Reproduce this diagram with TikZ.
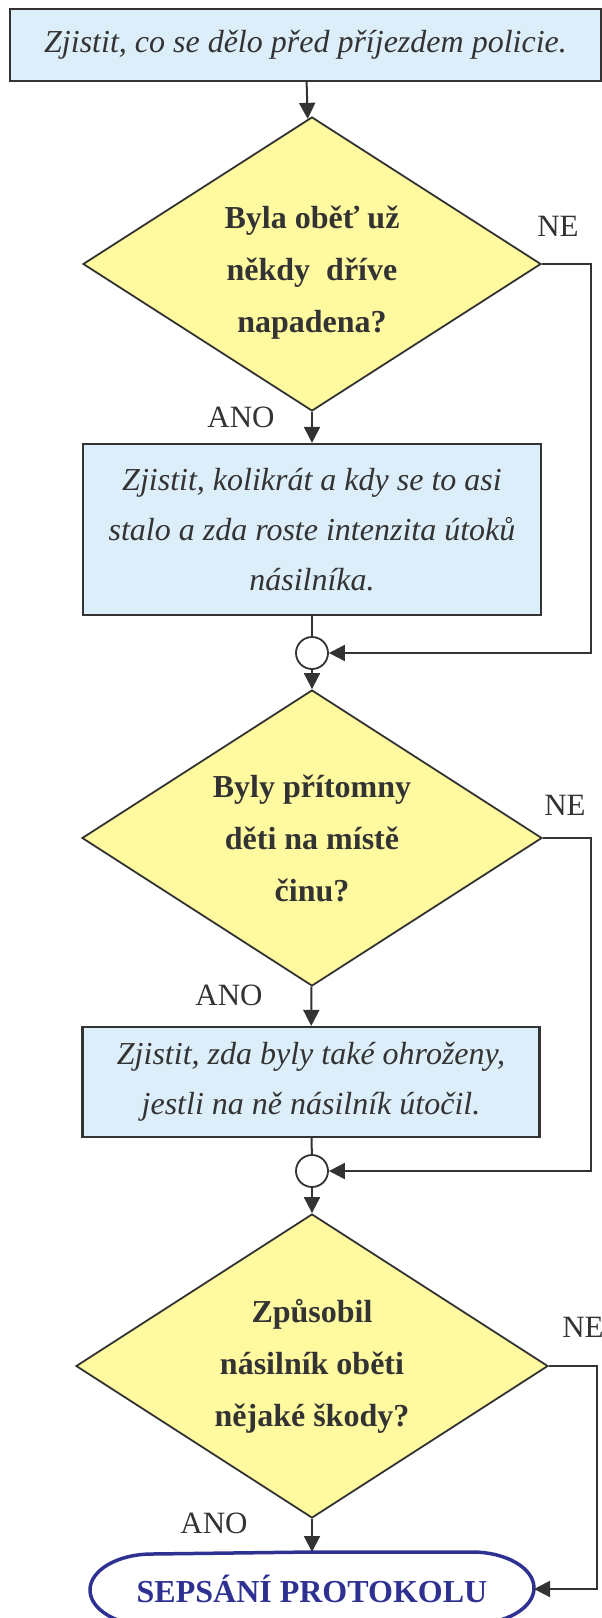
\documentclass[tikz,border=0pt]{standalone}
\usepackage{fontspec}
\setmainfont{Liberation Serif}
\usepackage{tikz}
\usetikzlibrary{arrows.meta}
\usetikzlibrary{shapes.geometric}
\usetikzlibrary{positioning}
\usetikzlibrary{calc}
\definecolor{ink}{RGB}{51,51,51}
\definecolor{boxblue}{RGB}{220,238,250}
\definecolor{qyellow}{RGB}{255,249,160}
\definecolor{endblue}{RGB}{46,49,146}
\tikzstyle{task}=[draw=ink,fill=boxblue,line width=2.2pt,rectangle,inner sep=0pt,align=center,text=ink,font=\fontsize{32}{50}\selectfont\itshape]
\tikzstyle{question}=[draw=ink,fill=qyellow,line width=1.8pt,diamond,aspect=1.55,inner sep=0pt,align=center,text=ink,font=\fontsize{32}{52}\selectfont\bfseries]
\tikzstyle{joint}=[draw=ink,fill=white,circle,line width=1.8pt,minimum size=32pt,inner sep=0pt]
\tikzstyle{lbl}=[text=ink,inner sep=0pt,font=\fontsize{31}{36}\selectfont]

\begin{document}
\begin{tikzpicture}[x=1pt,y=-1pt,line width=2pt]
\tikzstyle{flow}=[draw=ink,-{Triangle[length=16pt,width=16pt]}]
\tikzstyle{plain}=[draw=ink]
\useasboundingbox (0,0) rectangle (602,1618);
% steps
\node [task,minimum width=591pt,minimum height=72pt] (start) at (305.5,45)
  {Zjistit, co se dělo před příjezdem policie.};
\node [question,minimum width=458pt,minimum height=294pt] (q1) at (312,264)
  {\rule{0pt}{40pt}Byla oběť už\\někdy\ \ dříve\\napadena?};
\node [task,minimum width=458pt,minimum height=171pt] (b1) at (312,529.5)
  {Zjistit, kolikrát a kdy se to asi\\stalo a zda roste intenzita útoků\\násilníka.};
\node [joint] (j1) at (312,653) {};
\node [question,minimum width=460pt,minimum height=296pt] (q2) at (312,838)
  {Byly přítomny\\děti na místě\\činu?};
\node [task,minimum width=457pt,minimum height=110pt] (b2) at (311,1082)
  {Zjistit, zda byly také ohroženy,\\jestli na ně násilník útočil.};
\node [joint] (j2) at (312,1171) {};
\node [question,minimum width=472pt,minimum height=304pt] (q3) at (312,1366)
  {Způsobil\\násilník oběti\\nějaké škody?};
\node [minimum width=442pt,minimum height=72pt,inner sep=0pt,text=endblue,
  font=\fontsize{32}{36}\selectfont\bfseries] (end) at (312,1589)
  {SEPSÁNÍ PROTOKOLU};
\draw [endblue,line width=3.5pt,line join=round]
  (end.north) -- ($(end.north east)+(-62,0)$)
  arc [start angle=270,end angle=450,x radius=62,y radius=36]
  -- ($(end.south west)+(62,0)$)
  arc [start angle=90,end angle=270,x radius=62,y radius=36] -- cycle;

% side lines
\coordinate (r1) at (591,653);
\coordinate (r2) at (591,1171);
\coordinate (r3) at (597,1589);

% labels
\node [lbl] (ne1) at (558,226) {NE};
\node [lbl] (ano1) at (241,417) {ANO};
\node [lbl] (ne2) at (565,805) {NE};
\node [lbl] (ano2) at (229,995) {ANO};
\node [lbl] (ne3) at (583,1327) {NE};
\node [lbl] (ano3) at (214,1523) {ANO};

% connectors
\draw [flow] (start) -- (q1);
\draw [flow] (q1) -- (b1);
\draw [plain] (b1) -- (j1);
\draw [flow] (q1.east) -| (r1) -- (j1);
\draw [flow] (j1) -- (q2);
\draw [flow] (q2) -- (b2);
\draw [plain] (b2) -- (j2);
\draw [flow] (q2.east) -| (r2) -- (j2);
\draw [flow] (j2) -- (q3);
\draw [flow] (q3) -- (end.north);
\draw [flow] (q3.east) -| (r3) -- (end.east);
\end{tikzpicture}
\end{document}
